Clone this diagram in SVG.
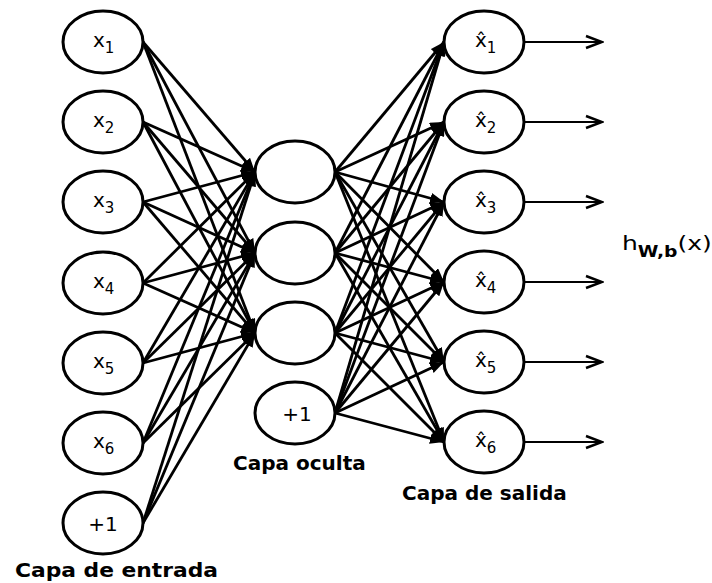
<svg xmlns="http://www.w3.org/2000/svg" width="712" height="583" viewBox="0 0 712 583">
<style>
.node{fill:#fff;stroke:#000;stroke-width:3}
.c{stroke:#000;stroke-width:2.8;fill:none}
.lab{font-family:"DejaVu Sans",sans-serif;font-size:20px;fill:#000}
.sub{font-size:15px}
.cap{font-family:"DejaVu Sans",sans-serif;font-size:20px;font-weight:bold;fill:#000}
</style>
<defs>
<marker id="ah" markerUnits="userSpaceOnUse" markerWidth="14" markerHeight="11" refX="14" refY="5.5" orient="auto">
<path d="M0,0 L14,5.5 L0,11 z" fill="#000"/>
</marker>
<marker id="oh" markerUnits="userSpaceOnUse" markerWidth="20" markerHeight="16" refX="18" refY="8" orient="auto">
<path d="M2,2 L18,8 L2,14" fill="none" stroke="#000" stroke-width="2.5"/>
</marker>
</defs>
<g id="connectors" class="c">
<g marker-end="url(#ah)">
<line x1="143" y1="42" x2="255" y2="172"/><line x1="143" y1="42" x2="255" y2="253"/><line x1="143" y1="42" x2="255" y2="333"/>
<line x1="143" y1="122" x2="255" y2="172"/><line x1="143" y1="122" x2="255" y2="253"/><line x1="143" y1="122" x2="255" y2="333"/>
<line x1="143" y1="202" x2="255" y2="172"/><line x1="143" y1="202" x2="255" y2="253"/><line x1="143" y1="202" x2="255" y2="333"/>
<line x1="143" y1="283" x2="255" y2="172"/><line x1="143" y1="283" x2="255" y2="253"/><line x1="143" y1="283" x2="255" y2="333"/>
<line x1="143" y1="363" x2="255" y2="172"/><line x1="143" y1="363" x2="255" y2="253"/><line x1="143" y1="363" x2="255" y2="333"/>
<line x1="143" y1="443" x2="255" y2="172"/><line x1="143" y1="443" x2="255" y2="253"/><line x1="143" y1="443" x2="255" y2="333"/>
<line x1="143" y1="523" x2="255" y2="172"/><line x1="143" y1="523" x2="255" y2="253"/><line x1="143" y1="523" x2="255" y2="333"/>
<line x1="335" y1="172" x2="444" y2="42"/><line x1="335" y1="172" x2="444" y2="122"/><line x1="335" y1="172" x2="444" y2="202"/><line x1="335" y1="172" x2="444" y2="282"/><line x1="335" y1="172" x2="444" y2="362"/><line x1="335" y1="172" x2="444" y2="442"/>
<line x1="335" y1="253" x2="444" y2="42"/><line x1="335" y1="253" x2="444" y2="122"/><line x1="335" y1="253" x2="444" y2="202"/><line x1="335" y1="253" x2="444" y2="282"/><line x1="335" y1="253" x2="444" y2="362"/><line x1="335" y1="253" x2="444" y2="442"/>
<line x1="335" y1="333" x2="444" y2="42"/><line x1="335" y1="333" x2="444" y2="122"/><line x1="335" y1="333" x2="444" y2="202"/><line x1="335" y1="333" x2="444" y2="282"/><line x1="335" y1="333" x2="444" y2="362"/><line x1="335" y1="333" x2="444" y2="442"/>
<line x1="335" y1="413" x2="444" y2="42"/><line x1="335" y1="413" x2="444" y2="122"/><line x1="335" y1="413" x2="444" y2="202"/><line x1="335" y1="413" x2="444" y2="282"/><line x1="335" y1="413" x2="444" y2="362"/><line x1="335" y1="413" x2="444" y2="442"/>
</g>
<g marker-end="url(#oh)" stroke-width="2">
<line x1="524" y1="42" x2="602" y2="42"/><line x1="524" y1="122" x2="602" y2="122"/><line x1="524" y1="202" x2="602" y2="202"/>
<line x1="524" y1="282" x2="602" y2="282"/><line x1="524" y1="362" x2="602" y2="362"/><line x1="524" y1="442" x2="602" y2="442"/>
</g>
</g>
<g id="in1"><ellipse class="node" cx="103" cy="42" rx="40" ry="31"/><text class="lab" x="93" y="47">x<tspan class="sub" dy="6">1</tspan></text></g>
<g id="in2"><ellipse class="node" cx="103" cy="122" rx="40" ry="31"/><text class="lab" x="93" y="127">x<tspan class="sub" dy="6">2</tspan></text></g>
<g id="in3"><ellipse class="node" cx="103" cy="202" rx="40" ry="31"/><text class="lab" x="93" y="207">x<tspan class="sub" dy="6">3</tspan></text></g>
<g id="in4"><ellipse class="node" cx="103" cy="283" rx="40" ry="31"/><text class="lab" x="93" y="288">x<tspan class="sub" dy="6">4</tspan></text></g>
<g id="in5"><ellipse class="node" cx="103" cy="363" rx="40" ry="31"/><text class="lab" x="93" y="368">x<tspan class="sub" dy="6">5</tspan></text></g>
<g id="in6"><ellipse class="node" cx="103" cy="443" rx="40" ry="31"/><text class="lab" x="93" y="448">x<tspan class="sub" dy="6">6</tspan></text></g>
<g id="inb"><ellipse class="node" cx="103" cy="523" rx="40" ry="31"/><text class="lab" x="103" y="531" text-anchor="middle" font-size="21">+1</text></g>
<g id="h1"><ellipse class="node" cx="295" cy="172" rx="40" ry="31"/></g>
<g id="h2"><ellipse class="node" cx="295" cy="253" rx="40" ry="31"/></g>
<g id="h3"><ellipse class="node" cx="295" cy="333" rx="40" ry="31"/></g>
<g id="hb"><ellipse class="node" cx="295" cy="413" rx="40" ry="31"/><text class="lab" x="297" y="421" text-anchor="middle" font-size="21">+1</text></g>
<g id="o1"><ellipse class="node" cx="484" cy="42" rx="40" ry="31"/><text class="lab" x="475" y="47">x̂<tspan class="sub" dy="6">1</tspan></text></g>
<g id="o2"><ellipse class="node" cx="484" cy="122" rx="40" ry="31"/><text class="lab" x="475" y="127">x̂<tspan class="sub" dy="6">2</tspan></text></g>
<g id="o3"><ellipse class="node" cx="484" cy="202" rx="40" ry="31"/><text class="lab" x="475" y="207">x̂<tspan class="sub" dy="6">3</tspan></text></g>
<g id="o4"><ellipse class="node" cx="484" cy="282" rx="40" ry="31"/><text class="lab" x="475" y="287">x̂<tspan class="sub" dy="6">4</tspan></text></g>
<g id="o5"><ellipse class="node" cx="484" cy="362" rx="40" ry="31"/><text class="lab" x="475" y="367">x̂<tspan class="sub" dy="6">5</tspan></text></g>
<g id="o6"><ellipse class="node" cx="484" cy="442" rx="40" ry="31"/><text class="lab" x="475" y="447">x̂<tspan class="sub" dy="6">6</tspan></text></g>
<text class="lab" transform="translate(622,250) scale(1.25,1)">h<tspan font-size="15" font-weight="bold" dy="7">W,b</tspan><tspan dy="-7">(x)</tspan></text>
<text class="cap" x="15" y="577" textLength="203" lengthAdjust="spacingAndGlyphs">Capa de entrada</text>
<text class="cap" x="233" y="470">Capa oculta</text>
<text class="cap" x="402" y="500">Capa de salida</text>
</svg>
